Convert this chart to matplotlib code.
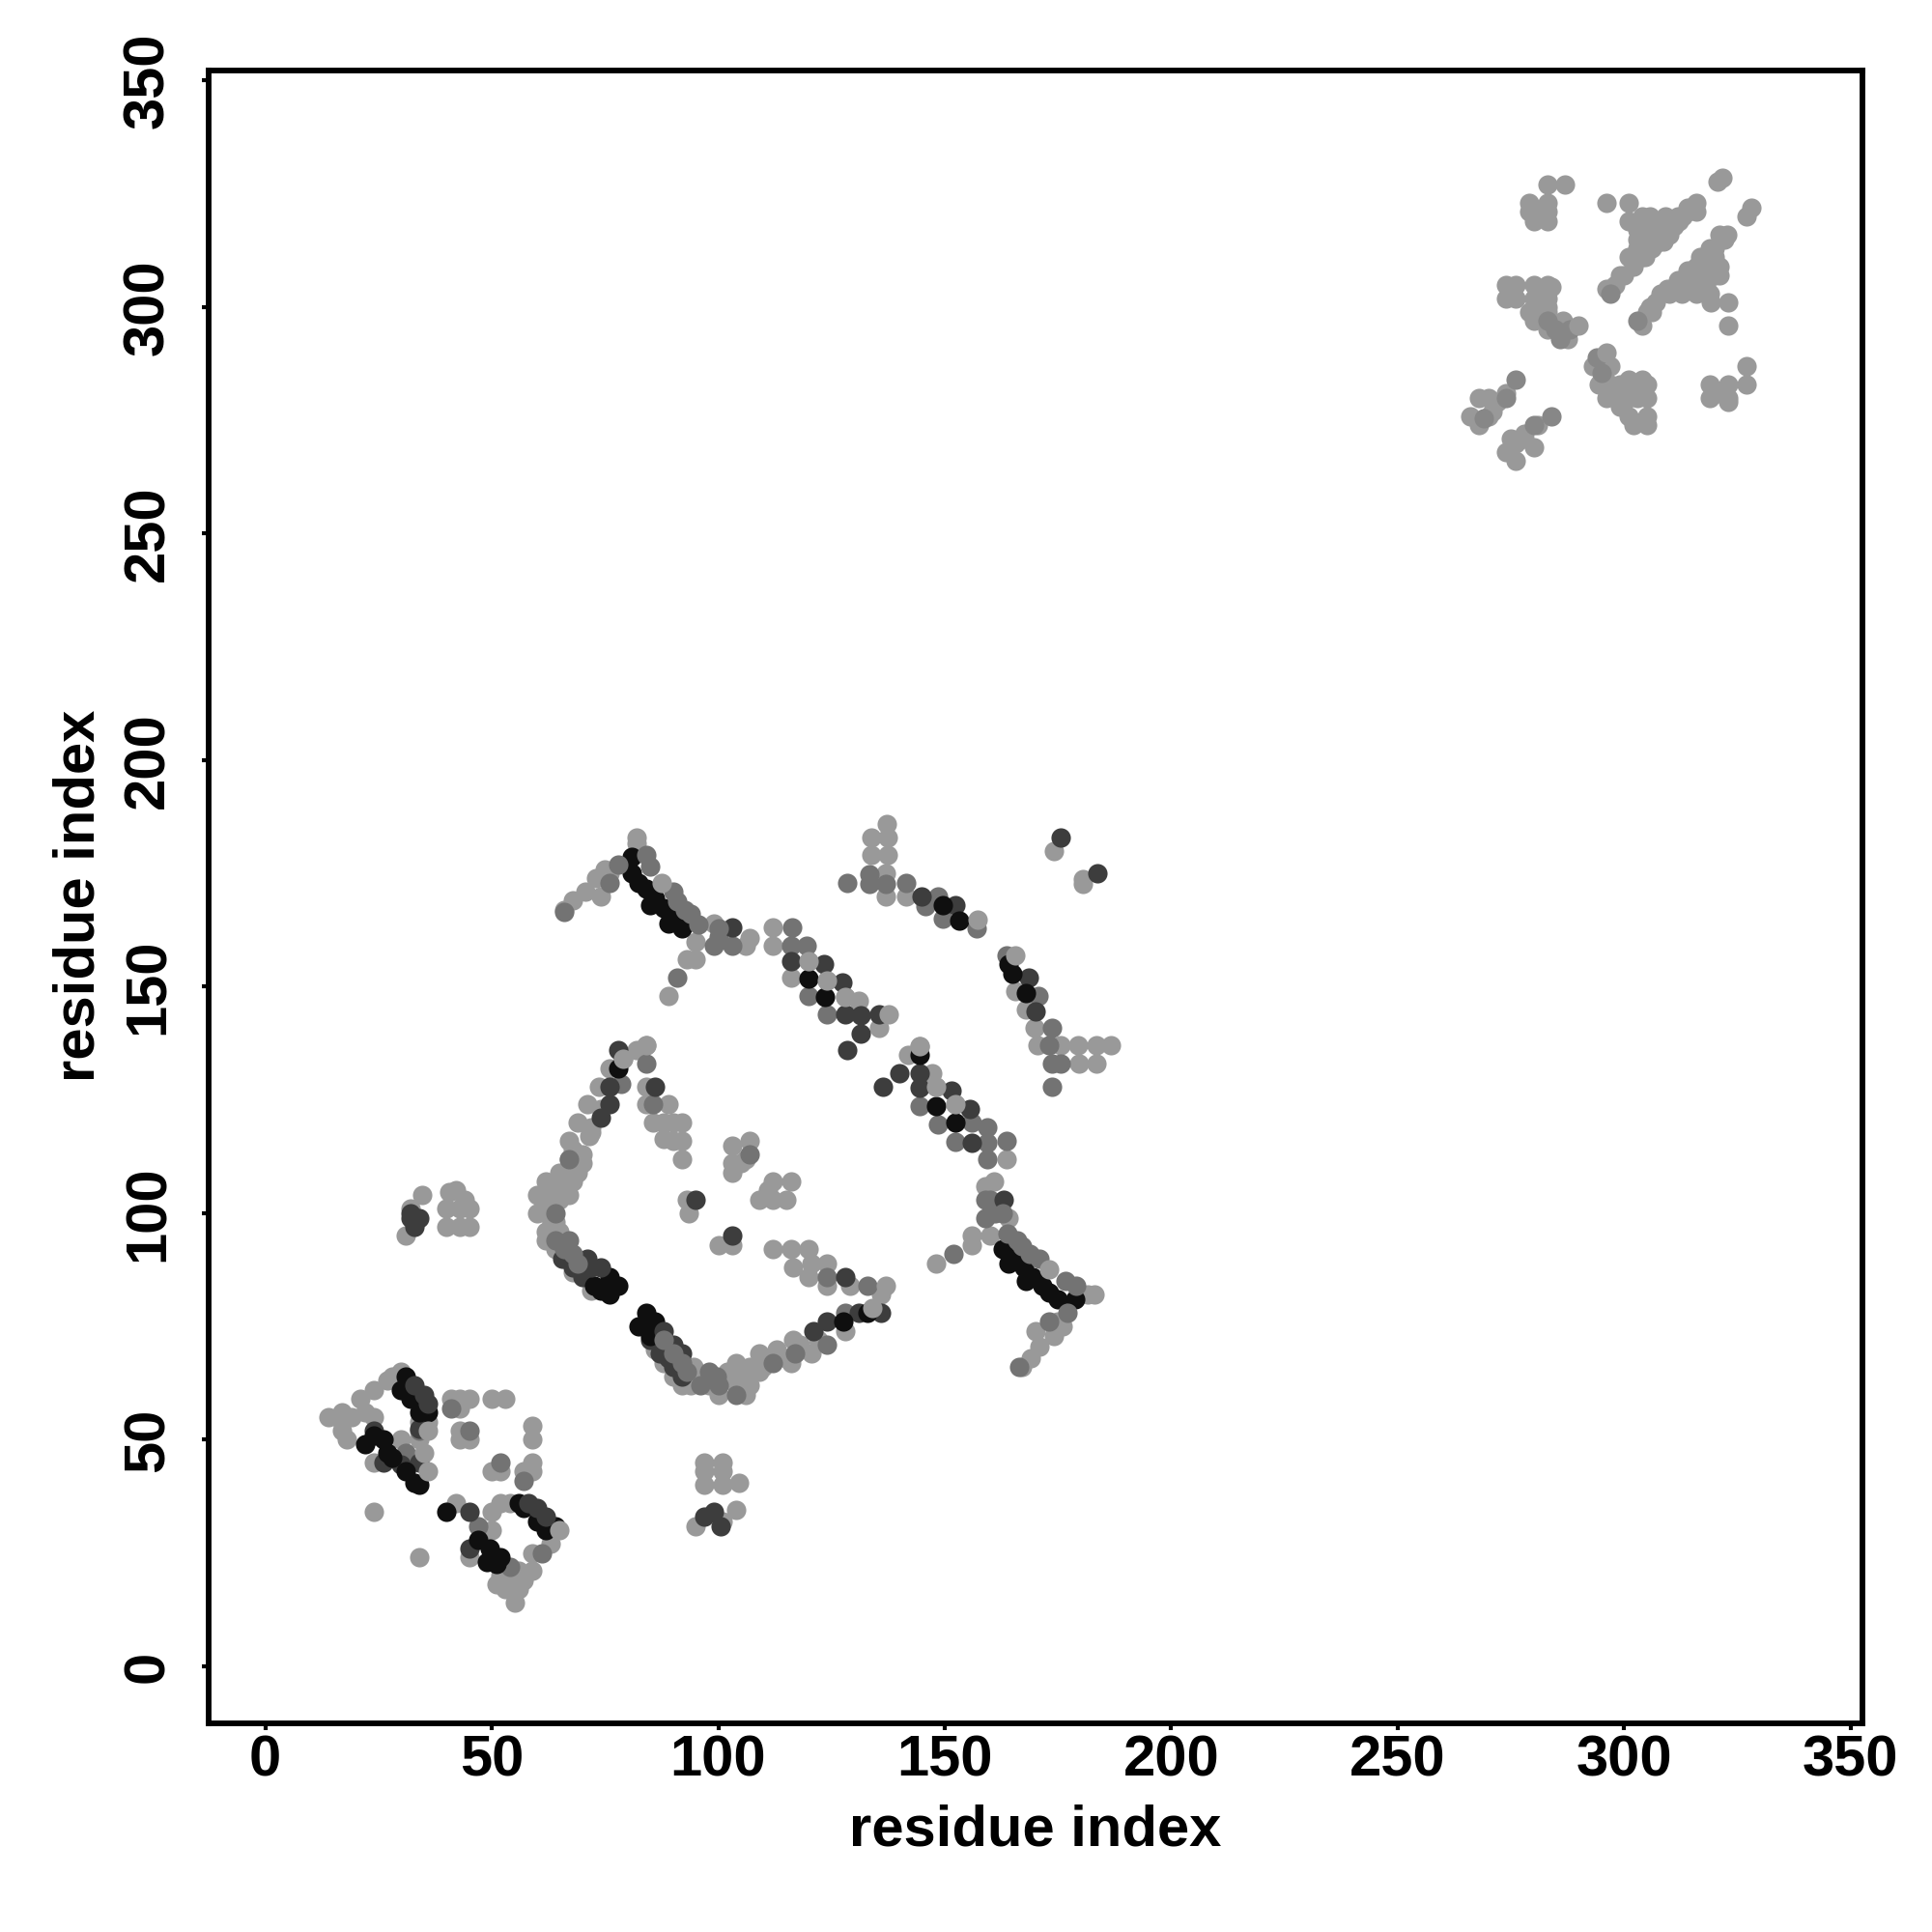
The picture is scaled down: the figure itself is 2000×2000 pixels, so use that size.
# coding: UTF-8
import matplotlib
matplotlib.use('Agg')
import matplotlib.pyplot as plt

plt.rcParams['font.family'] = ['Liberation Sans', 'DejaVu Sans']

tick_values = [0, 50, 100, 150, 200, 250, 300, 350]

# contacts, grouped by shade (residue i, residue j)
pts_light = [
    # bottom-left knot
    (14,55),(17,56),(17,54),(17,52),(18,50),(19,55),(21,59),(22,56),(24,61),(24,55),(27,63),(28,64),(30,65),
    (24,45),(30,50),(34,50),(34,54),(36,54),(41,59),(43,59),(43,57),(45,59),(50,59),(53,59),(59,53),(59,50),
    (43,52),(43,50),(45,50),(50,43),(52,43),(59,45),(57,43),(59,43),(24,34),(34,24),(45,24),(42,36),(50,34),
    (52,36),(54,36),(50,30),(63,27),(59,25),(59,21),(56,21),(56,17),(55,14),(51,18),(53,17),(54,19),(57,19),(52,20),
    # left arm
    (84,137),(82,136),(79,134),(76,132),(73.6,128),(71,124),(69,120),(71.5,117),(67,116),(70,113),(67,112),(69,109),
    (65,109),(62,107),(64,106),(67,104),(65,103),(60,104),(62,103),(60,100),(62,100),(62,96),(62,94),(65,96),(64,98),
    (63,101),(66,105),(68,107),(70,111),(68,114),(72,119),(74,123),(72,118),(67,110),(63,97),(64,95),(64,92),(66,90),(68,87),(72,83),
    # lower arm
    (94.6,66),(96.4,64),(94,62),(100,60),(104,62),(107,62),(107,66),(104,67),(109,69),(109,65),(113,70),(116,67),
    (116.6,72),(120.6,69),(128,74),(129,84),(124,84),(124,89),(120,92),(120.6,89),(120,86),(116,92),(116.6,88),(112,92),
    (136,82),(98,62),(102,65),(105,64),(111,68),(118,71),(93,65),(95,63),(97,63),(105,63),(106,60),(110,66),(115,68),(122,72),
    (86,70),(88,67),(90,64),(92,62),
    # interior
    (92,112),(90,116),(92,120),(90,120),(88,120),(85.7,120),(88,116.5),(89,124),(84,124),(84,128),(92,116),
    (103,115),(107,116),(103,109),(103,111),(105,111),(106,112),(116,107),(112,107),(109,103),(112,103),(115,103),(111,105),
    (93,103),(93.4,100),(100,93),(103,93),(97,45),(97,40),(101,45),(104.6,40.6),(101,40),(95,31),(104,34.6),(101,32),
    (45,97),(40,97),(45,101),(40,101),(40.6,104.6),(31,95),(34.6,104),(32,101),(42,105),(44,103),
    (97,43),(101,43),(43,97),(43,101),
    # top arm and its mirror
    (66,167),(68,169),(70.6,171),(74,170),(73,174),(75,176),(76,175),(82,183),(82,181.6),(95,160),(99,164),(106,159),
    (107,160.8),(93,156),(95,156),(89,148),
    (167,66),(169,68),(171,70.6),(170,74),(174,73),(176,75),(175,76),(183,82),(181.6,82),(160,95),(164,99),(159,106),
    (160.8,107),(156,93),(156,95),(148,89),
    # first band
    (112,163),(112,159),(116,152),(124,151.4),(128,147.8),(131,146.8),(135.5,141),(120,155.6),
    (144.4,136.8),(142,135),(147.3,131),(148,128),(152.3,124),(163.6,112),
    # second band
    (137.3,186),(133.8,183),(137.4,183),(133.8,179),(137.4,179),(137,175),(137,169.9),(141.4,169.9),(174,180),
    (180.6,173.8),(180.6,172.7),(165.6,149),(168,145),(169.8,141),(170.4,137),(175.6,137),(179.5,137),(183.5,137),
    (186.6,137),(179.7,133),(183.5,133),
    # top-right group
    (283,327),(287,327),(279,323),(283,323),(280,319),(283,319),(280,321),(283,321),(279,321),(296,323),(301,323),(301,319),
    (304,320),(305.7,320),(309,320),(311.8,320),(314,322),(316,323),(316,321),(303,317),(306,317),(309,317),(311,318),
    (303,313),(306,313),(308.6,314.5),(302,309),(304.6,311),(298,305),(296,304),(300,307),(305,316),(308,319),
    (313,320),(310,316),(302,311),(312,319),(314,321),(308,315),(310,317),(304,311),(307,314),
    (303,315),(305,314),(307,316),(304,318),(306,319),(301,311),(299,307),
    (320.6,327.7),(321.7,328.6),(327,320),(328,322),(322.8,316),(321,316),(319,313),(320,311),(316.7,311),(320,307),
    (316,309),(313.9,308),(311.8,306),(315,305),(318,305),(309.6,304),(312.8,303),(316,303),(319.2,301),(323,301),
    (319,303),(308,303),(305.7,300),(305,299),(304,296),(323,296),(316,307),(319,308),(318,310),
    (314,307),(317,308),(310,303),(312,305),(320,313),(322,315),(307,301),(306,299),(318,306),(321,309),(321,307),(314,304),(318,303),
    (274,305),(276,305),(274,302),(276,302),(280,305),(283,305),(284,304.4),(280,302),(283,302),(279,299),(280,297),(283,299),
    (280,300),(281,298),(283,300),
    (283,295),(286.5,297),(287.6,293),(293,287),(297,287),(294.3,283),(297,283),(299,283),(296,280),
    (295,284),(296,282),(298,281),(300,282),(303,282),
    (299,280),(301,280),(304,284),(305,283),(305,280),(303,280),(301,284),(302,274),(305,274),(305,276),(301,276),(299,278),
    (327,287),(327,283),(319,283),(323,283),(319,280),(323,279),(321,281),(323,280),
    (274,281),(270,280),(268,280),(271,277),(266,276),(268,274),(281,274),(280,269),(278,271),(276,270),(274,268),(276,266),
    (272,279),(270,276),(278,272),(275,271),
]
pts_soft = [
    (297,303),(303,297),(283,297),(285.8,293),(284.8,295),(295,285.4),(276,284),(274,280),(269,275.4),(284,276),(280,274),(294,289),(288,295),
]
pts_grey = [
    (41,57),(47,31),(45,52),(52,45),(57,41),(31,47),(61,25),(54,22),(34,52),
    (78.6,128.6),(84,133),(85.6,124),(107,113),(112,67),(117,69),(124,71),(133,84),(128,78),(124,86),(67,112),(64,100),
    (67,94),(100,62),(99.6,64),(104,60),(98,65),(96,62),
    (91,152),(66,166.5),(152,91),(166.5,66),(159,99),(159,103),(99,159),(103,159),
    (116.4,163),(116,159),(119.4,159),(120,148),(124,144),(144.4,123.7),(148.6,119.7),(156,120),(159.4,119),(152.4,115.8),
    (159.4,115.5),(163.6,116),(159.4,112),(128.4,173),(133.4,174.8),(133.4,172.7),(137,172.7),(141.4,173),(145.7,167.7),
    (148.6,170),(149.5,165),(157,162.8),(163.6,157),(170.6,148),(173.6,141),(173,137),(173.6,133),(175.6,133),(173.6,128),
    (160,103),(161,100),(100,161),
]
pts_dark = [
    (34,45),(30,44.5),(24,52),(26,45),(45,34),(45,26),(34,52.5),
    (78,136),(76,128),(86,128),(68,88),(70,86),(65.5,90),(85,72),(87,69),(87,71),(89,68),(91,66),
    (90,66),(92,64),(121,74),(124,76),(131,78),(136,78),(128,86),(95,103),(103,95),
    (33,97),(32,100),(97,33),(100.5,31),(32,99),(34,99),(99,34),
    (103,163),(163,103),
    (116,155.6),(123.4,155),(127.4,151),(128,144),(131.4,143.6),(135.5,144),(131.4,139.7),(128.4,136),
    (140,131),(144.4,131),(136.4,128),(144.4,127.6),(151.4,127),(155.6,123),(156,115.5),
    (144.8,170),(152.4,168),(175.6,183),(183.6,175),(168.5,152),(170,144.6),
]
pts_black = [
    (31,64),(30,61),(32,59),(34,56),(36,56),(26,50),(22,49),(27,47),(33,40.5),(34,40),(28,46),(31,43),(24,51),
    (40,34),(56,36),(64,31),(47,28),(49.5,26),(52,24),(49,23),(51,22.5),(57,35),(60,32),(62,30),
    (78,132),(76,86),(78,84),(76,82),(72.6,84),(74,83),
    (84,78),(86,76),(82.5,75),(85,73),(127.6,76),(133,78),
    (81,178.7),(81,175),(82.5,173),(84,171.6),(86,169.5),(88,167.4),(90,165),(92,162.8),(85,168),(89,164),
    (178.7,81),(175,81),(173,82.5),(171.6,84),(169.5,86),(167.4,88),(165,90),(162.8,92),(168,85),(164,89),
    (120,151.7),(123.6,147.8),(148,123.7),(152.3,120),(144.4,135),
    (149.5,167.9),(153.3,164.7),(165,152.8),(168,148.5),(164,155),
]
pts_over_dark = [
    (33,62),(35,60),(36,58),(62,33),(60,35),(58,36),(76,124),(74,121),(74,88),(71,90),(72,88),(88,74),(90,71),(92,69),
]
pts_over_grey = [
    (78,177),(85,176.6),(84,179),(76,173),(90,171),(91,168.8),(92.7,167),(94,166),(95.6,163.8),(100,162.8),
    (177,78),(176.6,85),(179,84),(173,76),(171,90),(168.8,91),(167,92.7),(166,94),(163.8,95.6),(162.8,100),
    (64,94),(66,92),(68,91),(69,89),(88,72),(90,69),(92,67),(93,65),
]
pts_over_light = [
    (36,43),(35,47),(65,30),(36,52),(84,137),(79,134),(137,84),(134,79),(124,151.4),(128,147.8),(120,155.6),(148,128),(152.3,124),
    (137.6,144),(165.6,157),(157.3,164.9),(87.6,173),(173,87.6),(144.4,136.8),(290,296),(296,290),
]

shades = [0.60, 0.53, 0.45, 0.24, 0.06, 0.24, 0.45, 0.60]
groups = [pts_light, pts_soft, pts_grey, pts_dark, pts_black, pts_over_dark, pts_over_grey, pts_over_light]

fig = plt.figure(figsize=(20, 20), dpi=100)
ax = fig.add_axes([216 / 2000, 216 / 2000, 1712.5 / 2000, 1711.3 / 2000])

for pts, g in zip(groups, shades):
    xs = [p[0] for p in pts]
    ys = [p[1] for p in pts]
    ax.scatter(xs, ys, s=210, color=str(g), linewidths=0, clip_on=False, zorder=3)

ax.set_xlim(-12.5, 352.7)
ax.set_ylim(-12.6, 352.3)
ax.set_xticks(tick_values)
ax.set_yticks(tick_values)
ax.set_xticklabels(tick_values, fontsize=43, fontweight='bold')
ax.set_yticklabels(tick_values, fontsize=43, fontweight='bold', rotation=90, va='center')
ax.tick_params(axis='x', length=5, width=3, pad=3)
ax.tick_params(axis='y', length=5, width=3, pad=20)
for s in ax.spines.values():
    s.set_linewidth(4.2)

fig.text(1072 / 2000, 1 - 1895 / 2000, 'residue index', fontsize=43, fontweight='bold', ha='center', va='center')
fig.text(82 / 2000, 1 - 927 / 2000, 'residue index', fontsize=43, fontweight='bold', ha='center', va='center', rotation=90)

fig.savefig('out.png', dpi=100)
